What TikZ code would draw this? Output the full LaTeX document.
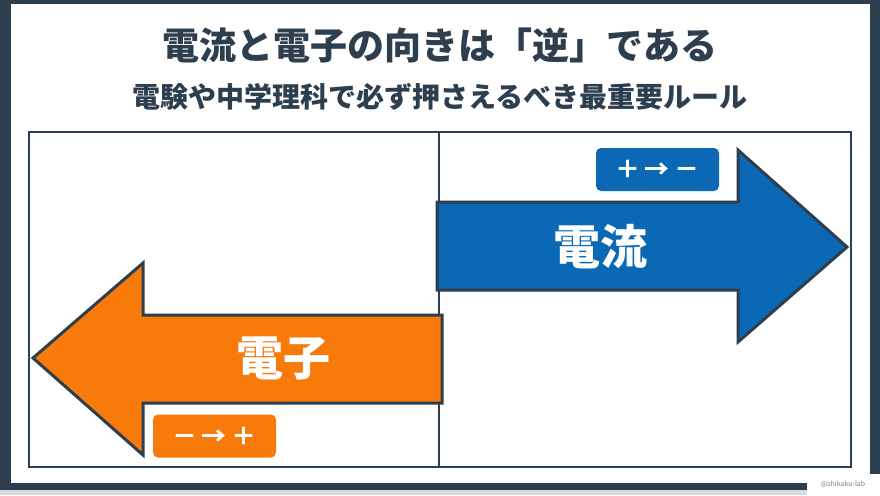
\documentclass[tikz,border=0pt]{standalone}
\usepackage{fontspec}
\setmainfont{Noto Sans CJK JP}
\definecolor{slate}{HTML}{2D3E4F}
\definecolor{elblue}{HTML}{0A68B5}
\definecolor{elorange}{HTML}{F77A0B}
\definecolor{bottomgray}{HTML}{D9DBDD}

\begin{document}
\begin{tikzpicture}[x=1pt,y=-1pt,
        arrowbody/.style={draw=slate,line width=3pt},
        tag/.style={rounded corners=5pt,text=white,minimum width=123pt,minimum height=43pt,
            inner sep=0pt,font=\bfseries\fontsize{25}{25}\selectfont},
        big/.style={text=white,font=\bfseries\fontsize{47}{47}\selectfont}]
            \useasboundingbox (0,0) rectangle (880,495);
            % frame
            \fill[bottomgray] (0,0) rectangle (880,495);
            \fill[slate] (0,0) rectangle (880,490);
            \fill[white] (11,4) rectangle (870,483);
            \node[text=slate,font=\bfseries\fontsize{37}{37}\selectfont] (title) at (440,45)
                {電流と電子の向きは「逆」である};
            \node[text=slate,font=\bfseries\fontsize{28}{28}\selectfont] (subtitle) at (440,97)
                {電験や中学理科で必ず押さえるべき最重要ルール};
            % panel
            \draw[slate,line width=1.5pt] (29,132) rectangle (851,467);
            \draw[slate,line width=1.5pt] (439,132) -- (439,467);
            % current
            \filldraw[arrowbody,fill=elblue] (437,202) -- (738,202) -- (738,150) -- (847,247)
                -- (738,342) -- (738,290) -- (437,290) -- cycle;
            \node[big] (current) at (600,247) {電流};
            \node[tag,fill=elblue] (currenttag) at (657.5,169.5) {＋\,→\,－};
            % electron
            \filldraw[arrowbody,fill=elorange] (442,315) -- (143,315) -- (143,263) -- (33,358)
                -- (143,455) -- (143,403) -- (442,403) -- cycle;
            \node[big] (electron) at (283,358) {電子};
            \node[tag,fill=elorange] (electrontag) at (214.5,436) {－\,→\,＋};
            % credit
            \fill[white] (807,474) rectangle (880,495);
            \node[text=gray,font=\fontsize{7}{7}\selectfont] (credit) at (843,484) {@shikaku-lab};
        \end{tikzpicture}
\end{document}
